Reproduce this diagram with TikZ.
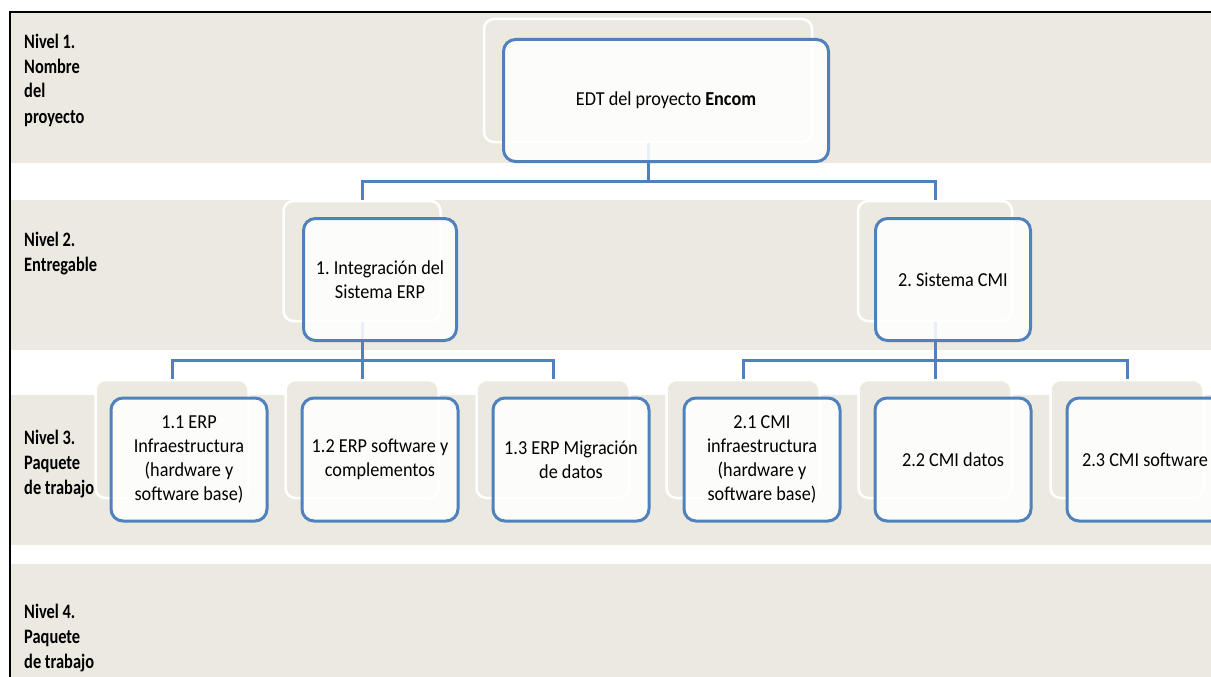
\documentclass[tikz,border=0pt]{standalone}
\usepackage{fontspec}
\setmainfont{Carlito}[FakeStretch=0.92]
\newfontfamily\lblfont{Carlito}[FakeStretch=0.8]
\definecolor{bandc}{RGB}{236,233,224}
\definecolor{edtblue}{RGB}{79,129,189}
\frenchspacing
\begin{document}
\begin{tikzpicture}[x=1pt,y=-1pt,
  band/.style={fill=bandc,draw=none},
  ghost/.style={draw=white,line width=2.5pt,fill=bandc,rounded corners=10pt,inner sep=0pt},
  ghostthree/.style={ghost,minimum width=153pt,minimum height=118pt},
  wbs/.style={draw=edtblue,line width=3pt,fill=white,fill opacity=0.88,text opacity=1,
    rounded corners=12pt,align=center,inner sep=2pt,
    font=\fontsize{19.8}{24}\selectfont},
  wbsthree/.style={wbs,minimum width=156pt,minimum height=123pt},
  conn/.style={draw=edtblue,line width=3pt},
  lvl/.style={anchor=base west,align=left,inner sep=0pt,
    font=\lblfont\bfseries\fontsize{20.5}{25}\selectfont}]
\useasboundingbox (0,0) rectangle (1211,677);
\clip (0,0) rectangle (1211,677);

% level bands
\fill[band] (11,13) rectangle (1211,163);
\fill[band] (11,200) rectangle (1211,350);
\fill[band] (11,395) rectangle (1211,545);
\fill[band] (11,564) rectangle (1211,677);

% frame
\draw[line width=2.5pt] (10,677) -- (10,12) -- (1211,12);

% level labels (placed by the baseline of their last line)
\node[lvl] (l1) at (24,123) {Nivel 1.\\Nombre\\del\\proyecto};
\node[lvl] (l2) at (24,271) {Nivel 2.\\Entregable};
\node[lvl] (l3) at (24,494) {Nivel 3.\\Paquete\\de trabajo};
\node[lvl] (l4) at (24,668) {Nivel 4.\\Paquete\\de trabajo};

% background shapes of the hierarchy
\node[ghost,minimum width=328pt,minimum height=123pt] (g0) at (648,80.5) {};
\node[ghost,minimum width=157pt,minimum height=120pt] (g1) at (362,261) {};
\node[ghost,minimum width=154pt,minimum height=120pt] (g2) at (935,261) {};
\node[ghostthree] (g11) at (172,439) {};
\node[ghostthree] (g12) at (362,439) {};
\node[ghostthree] (g13) at (553,439) {};
\node[ghostthree] (g21) at (743,439) {};
\node[ghostthree] (g22) at (935,439) {};
\node[ghostthree] (g23) at (1127,439) {};

% connectors
\coordinate (bus0) at (g0.south |- 0,181);
\coordinate (bus1) at (g1.south |- 0,360);
\coordinate (bus2) at (g2.south |- 0,360);
\draw[conn] (g0.south) -- (bus0);
\draw[conn] (bus0) -| (g1.north);
\draw[conn] (bus0) -| (g2.north);
\draw[conn] (g1.south) -- (bus1);
\draw[conn] (bus1) -| (g11.north);
\draw[conn] (bus1) -- (g12.north);
\draw[conn] (bus1) -| (g13.north);
\draw[conn] (g2.south) -- (bus2);
\draw[conn] (bus2) -| (g21.north);
\draw[conn] (bus2) -- (g22.north);
\draw[conn] (bus2) -| (g23.north);

% deliverable boxes
\node[wbs,minimum width=325pt,minimum height=122pt] (b0) at (666,100.5)
  {EDT del proyecto \textbf{Encom}};
\node[wbs,minimum width=153pt,minimum height=122pt] (b1) at (380,279.5)
  {1. Integración del\\Sistema ERP};
\node[wbs,minimum width=155pt,minimum height=122pt] (b2) at (953,279.5)
  {2. Sistema CMI};
\node[wbsthree] (b11) at (189,459.5) {1.1 ERP\\Infraestructura\\(hardware y\\software base)};
\node[wbsthree] (b12) at (380,459.5) {1.2 ERP software y\\complementos};
\node[wbsthree] (b13) at (571,459.5) {1.3 ERP Migración\\de datos};
\node[wbsthree] (b21) at (762,459.5) {2.1 CMI\\infraestructura\\(hardware y\\software base)};
\node[wbsthree] (b22) at (953,459.5) {2.2 CMI datos};
\node[wbsthree] (b23) at (1145,459.5) {2.3 CMI software};
\end{tikzpicture}
\end{document}
